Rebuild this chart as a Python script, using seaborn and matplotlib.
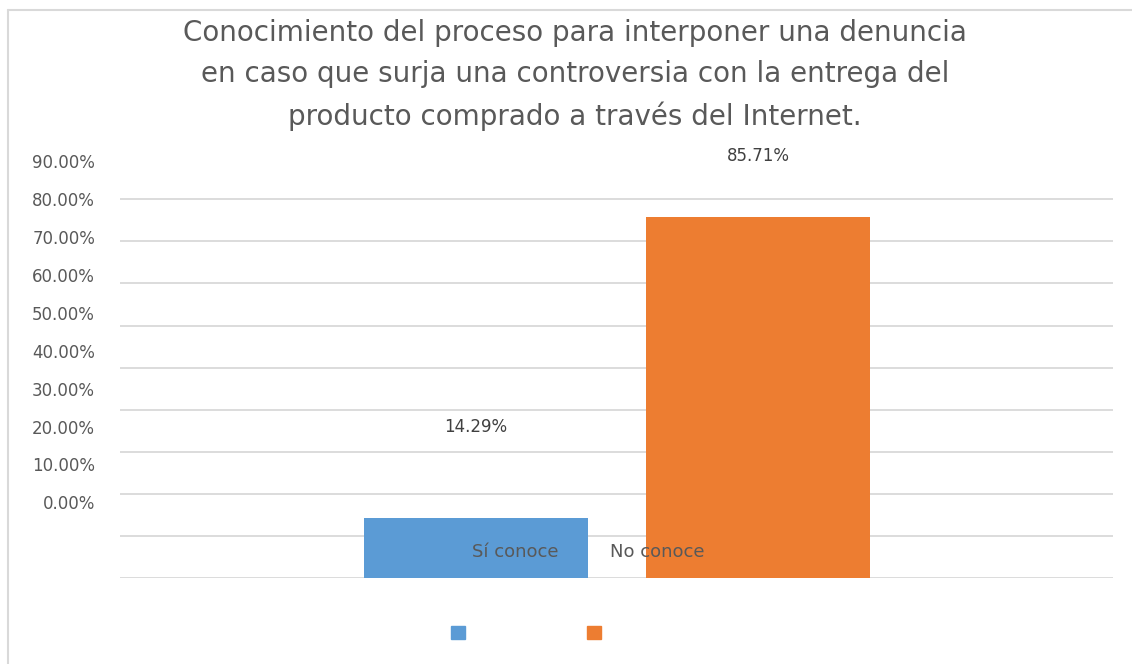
import matplotlib
matplotlib.use("Agg")
import matplotlib.pyplot as plt
import matplotlib.patches as mpatches
from matplotlib.lines import Line2D
import pandas as pd
import seaborn as sns

# data
categorias = ["Sí conoce", "No conoce"]
porcentajes = [0.1429, 0.8571]
etiquetas = ["14.29%", "85.71%"]
colores = ["#5B9BD5", "#ED7D31"]
# the axis labels in the original sit off the gridlines, so keep them separate
tick_labels = ["0.00%", "10.00%", "20.00%", "30.00%", "40.00%",
               "50.00%", "60.00%", "70.00%", "80.00%", "90.00%"]
grid_values = [0.0, 0.1, 0.2, 0.3, 0.4, 0.5, 0.6, 0.7, 0.8, 0.9]

titulo = ("Conocimiento del proceso para interponer una denuncia\n"
          "en caso que surja una controversia con la entrega del\n"
          "producto comprado a través del Internet.")

df = pd.DataFrame({"categoria": categorias, "valor": porcentajes})

sns.set_style("white")
plt.rcParams["font.family"] = ["DejaVu Sans"]
gris = "#595959"

fig = plt.figure(figsize=(11.32, 6.64), dpi=100)
ax = fig.add_axes([120 / 1132, 86 / 664, 993 / 1132, 420.8 / 664])

sns.barplot(data=df, x="categoria", y="valor", hue="categoria", palette=colores,
            width=0.793, saturation=1, linewidth=0, legend=False, ax=ax,
            zorder=2)

for g in grid_values:
    ax.axhline(g, color="#D9D9D9", lw=1.3, zorder=1)

ax.set_ylim(0, 1.0)
ax.set_xlim(-1.26, 2.255)
ax.set_yticks([0.18 + 0.09 * i for i in range(len(tick_labels))])
ax.set_yticklabels(tick_labels)
ax.tick_params(axis="y", length=0, pad=18, labelsize=12, labelcolor=gris)
ax.set_xticks([])
ax.set_xlabel("")
ax.set_ylabel("")
for s in ax.spines.values():
    s.set_visible(False)

# value labels (placed where the original put them, above the bars)
offsets = [0.216, 0.146]
for i, (v, t) in enumerate(zip(porcentajes, etiquetas)):
    ax.text(i, v + offsets[i], t, ha="center", va="center", fontsize=12,
            color="#404040", clip_on=False)

# category names drawn inside the plot area
for i, c in enumerate(categorias):
    ax.text(0.14 + 0.5 * i, 0.062, c, ha="center", va="center", fontsize=13,
            color=gris, zorder=3)

fig.text(575 / 1132, 1 - 75 / 664, titulo, ha="center", va="center",
         fontsize=20, color=gris, linespacing=1.6)

handles = [mpatches.Patch(color=c) for c in colores]
fig.legend(handles, ["", ""], ncol=2, loc="center",
           bbox_to_anchor=(526 / 1132, 1 - 633 / 664), frameon=False,
           fontsize=11, handlelength=0.92, handleheight=0.92,
           handletextpad=0, columnspacing=7.98)

# chart frame (top and left edge visible)
fig.add_artist(Line2D([8 / 1132, 8 / 1132], [0, 1 - 10 / 664],
                      transform=fig.transFigure, color="#D9D9D9", lw=1.5))
fig.add_artist(Line2D([8 / 1132, 1], [1 - 10 / 664, 1 - 10 / 664],
                      transform=fig.transFigure, color="#D9D9D9", lw=1.5))

fig.savefig("out.png", dpi=100)
